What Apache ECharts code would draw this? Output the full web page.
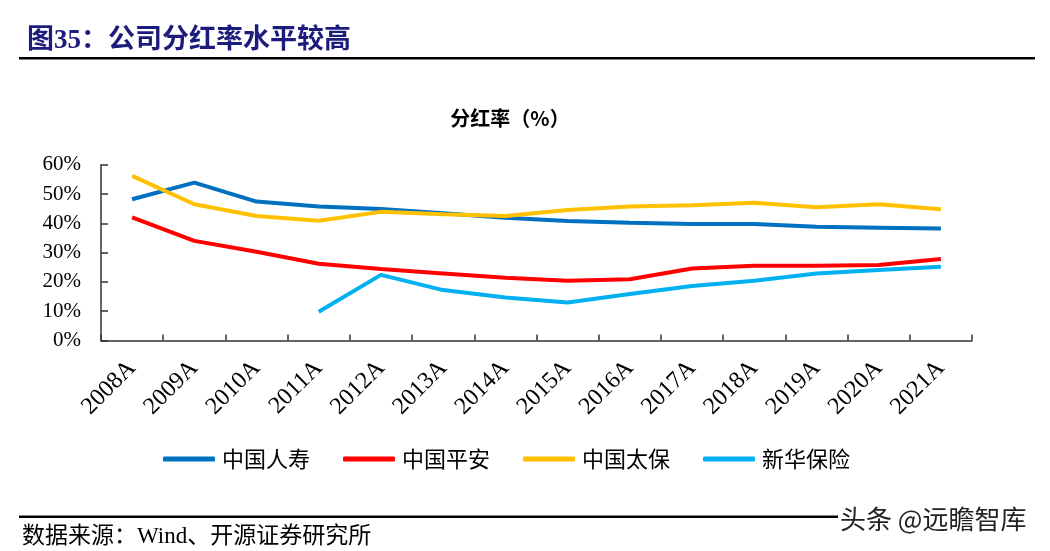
<!DOCTYPE html>
<html>
<head>
<meta charset="utf-8">
<script src="https://cdn.jsdelivr.net/npm/echarts@6/dist/echarts.min.js"></script>
<style>
  html, body { margin: 0; padding: 0; background: #fff; }
  #chart { width: 1050px; height: 551px; }
</style>
</head>
<body>
<div id="chart"></div>
<script>
// 年份
var years = ['2008A', '2009A', '2010A', '2011A', '2012A', '2013A', '2014A',
  '2015A', '2016A', '2017A', '2018A', '2019A', '2020A', '2021A']
// 分红率（%）
var chinaLife = [48.2, 53.9, 47.4, 45.7, 44.9, 43.4, 41.9, 40.8, 40.2, 39.8, 39.8, 38.8, 38.5, 38.2]
var pingAn = [42.0, 34.0, 30.3, 26.2, 24.4, 22.9, 21.4, 20.4, 20.9, 24.6, 25.5, 25.5, 25.8, 27.8]
var cpic = [56.2, 46.5, 42.5, 40.9, 43.9, 43.1, 42.5, 44.5, 45.7, 46.2, 47.0, 45.5, 46.5, 44.8]
var newChinaLife = [null, null, null, 9.8, 22.4, 17.2, 14.7, 13.0, 15.9, 18.6, 20.4, 22.9, 24.1, 25.2]
var yTicks = [0, 10, 20, 30, 40, 50, 60]

var serif = 'Liberation Serif, Noto Sans CJK SC'
var cjk = 'Noto Sans CJK SC'

function makeLine(name, data, color) {
  return {
    name: name,
    type: 'line',
    data: data,
    symbol: 'none',
    smooth: false,
    lineStyle: { width: 4, color: color },
    itemStyle: { color: color }
  }
}

var myChart = echarts.init(document.getElementById('chart'))
var options = {
  backgroundColor: '#fff',
  animation: false,
  title: [
    {
      text: '图35：公司分红率水平较高',
      left: 22,
      top: 23,
      textStyle: { fontFamily: serif, fontSize: 27, fontWeight: 'bold', color: '#1c1c7c' }
    },
    {
      text: '分红率（%）',
      left: 505,
      top: 103,
      textAlign: 'center',
      textStyle: { fontFamily: cjk, fontSize: 20, fontWeight: 'bold', color: '#000' }
    }
  ],
  graphic: [
    // 标题下横线
    { type: 'rect', shape: { x: 19, y: 57, width: 1016, height: 2.5 }, style: { fill: '#000' } },
    // 底部横线
    { type: 'rect', shape: { x: 19, y: 515.5, width: 1016, height: 2.5 }, style: { fill: '#000' } },
    {
      type: 'text', left: 22, top: 525,
      style: { text: '数据来源：Wind、开源证券研究所', font: '23px ' + serif, fill: '#000' }
    },
    {
      type: 'text', left: 838, top: 505,
      style: {
        text: '头条 @远瞻智库', font: '26px ' + cjk, fill: '#222',
        stroke: '#fff', lineWidth: 3,
        backgroundColor: '#fff', padding: [0, 14, 0, 2]
      }
    }
  ],
  grid: {
    left: 101,
    right: 78,
    top: 164.7,
    bottom: 210.5,
    containLabel: false
  },
  legend: {
    left: 158,
    top: 443,
    icon: 'roundRect',
    itemWidth: 52,
    itemHeight: 5,
    itemGap: 33,
    textStyle: { fontFamily: cjk, fontSize: 22, color: '#000', padding: [0, 0, 0, 2] },
    data: ['中国人寿', '中国平安', '中国太保', '新华保险']
  },
  xAxis: {
    type: 'category',
    data: years,
    boundaryGap: true,
    axisLine: { lineStyle: { color: '#333', width: 1.5 } },
    axisTick: { show: true, inside: true, length: 6, lineStyle: { color: '#333', width: 1.5 } },
    axisLabel: {
      rotate: 45,
      margin: 24,
      interval: 0,
      fontFamily: serif,
      fontSize: 24,
      color: '#000'
    },
    splitLine: { show: false }
  },
  yAxis: {
    type: 'value',
    min: yTicks[0],
    max: yTicks[yTicks.length - 1],
    interval: 10,
    axisLine: { show: true, lineStyle: { color: '#333', width: 1.5 } },
    axisTick: { show: true, inside: true, length: 7, lineStyle: { color: '#333', width: 1.5 } },
    axisLabel: {
      margin: 20,
      fontFamily: serif,
      fontSize: 21,
      color: '#000',
      formatter: '{value}%'
    },
    splitLine: { show: false }
  },
  series: [
    makeLine('中国人寿', chinaLife, '#0070c0'),
    makeLine('中国平安', pingAn, '#ff0000'),
    makeLine('中国太保', cpic, '#ffc000'),
    makeLine('新华保险', newChinaLife, '#00b0f0')
  ]
}
myChart.setOption(options)
</script>
</body>
</html>
